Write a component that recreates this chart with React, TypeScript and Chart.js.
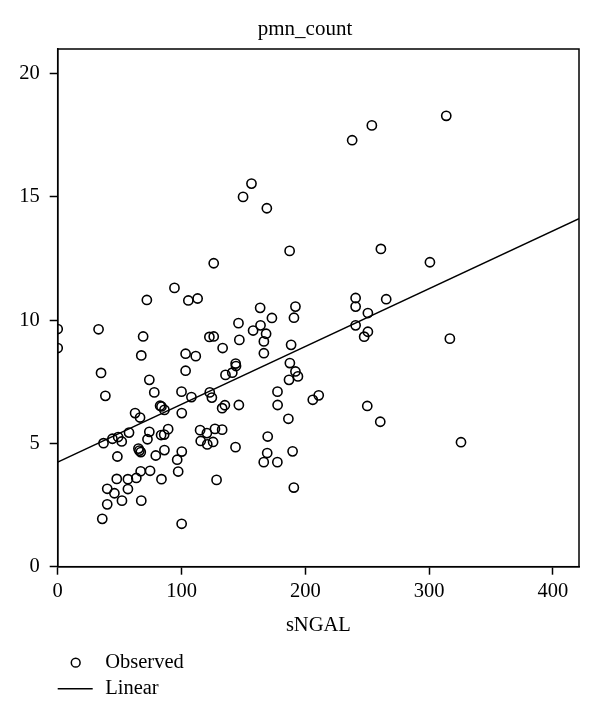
import { useEffect, useRef } from "react";
import { Chart, registerables } from "chart.js";

Chart.register(...registerables);

const chartTitle = "pmn_count";
const xAxisTitle = "sNGAL";
const observedLabel = "Observed";
const linearLabel = "Linear";

const xTicks = [0, 100, 200, 300, 400];
const yTicks = [0, 5, 10, 15, 20];
const xRange = [0, 421];
const yRange = [0, 21];

const sngal = [
  0, 0, 33, 35, 38.5, 69, 67.5, 74, 78, 62.5, 66.5, 82.7, 83.8, 86.2, 37, 44.2,
  48.8, 51.7, 57.6, 74, 72.5, 83.5, 86, 89.2, 48.2, 65.2, 66, 67.1, 79.2, 86.2,
  100.2, 96.5, 97.3, 74.6, 67, 63.5, 56.7, 47.7, 83.8, 56.7, 40, 45.8, 40, 51.9,
  67.5, 36, 100.1, 100, 103.3, 103.3, 111.5, 108, 100.2, 72, 94.3, 105.5, 113,
  126, 149.7, 156.5, 168.9, 187.3, 163.5, 192, 173, 190.8, 146, 163.8, 157.8,
  168.3, 122.5, 126, 146.7, 166.5, 188.5, 133.2, 166.5, 187.5, 143.7, 144, 192,
  194, 186.8, 141, 135.5, 122.8, 124.5, 177.5, 177.6, 206, 210.8, 132.8, 135,
  146.3, 186.3, 115, 120.5, 127, 132.8, 115.5, 120.8, 125.5, 143.6, 128.3,
  169.6, 169.2, 166.4, 177.4, 189.7, 190.7, 237.8, 253.7, 313.8, 261, 300.6,
  240.6, 240.6, 265.3, 250.5, 240.6, 250.5, 247.5, 316.7, 250, 260.5, 325.7,
];

const pmnCount = [
  9.64, 8.87, 9.63, 7.86, 6.93, 9.34, 8.57, 7.58, 7.07, 6.23, 6.05, 6.53, 6.5,
  6.36, 5.01, 5.19, 5.26, 5.08, 5.44, 5.47, 5.17, 5.34, 5.36, 5.58, 4.47, 4.79,
  4.71, 4.65, 4.51, 4.73, 4.67, 4.34, 3.86, 3.89, 3.87, 3.6, 3.55, 3.56, 3.55,
  3.15, 3.16, 2.98, 2.53, 2.68, 2.68, 1.94, 1.74, 7.1, 7.95, 8.64, 8.54, 6.88,
  6.23, 10.82, 11.31, 10.8, 10.88, 12.31, 15.0, 15.54, 14.54, 12.81, 10.5,
  10.55, 10.09, 10.1, 9.88, 9.79, 9.58, 9.45, 9.32, 9.34, 9.2, 9.14, 9.0, 8.87,
  8.66, 8.26, 8.24, 8.14, 7.92, 7.72, 7.58, 7.87, 7.78, 7.07, 6.86, 7.1, 6.56,
  6.77, 6.95, 6.43, 6.55, 6.56, 6.0, 5.54, 5.42, 5.59, 5.56, 5.1, 4.96, 5.06,
  4.85, 3.52, 5.28, 4.61, 4.24, 4.24, 4.68, 3.21, 17.3, 17.9, 18.29, 12.89,
  12.35, 10.9, 10.55, 10.85, 10.29, 9.79, 9.53, 9.33, 9.25, 6.52, 5.88, 5.05,
];

const linearX = [0, 421];
const linearY = [4.24, 14.12];

const FONT = "'Liberation Serif', 'Times New Roman', serif";

const framePlugin = {
  id: "frame",
  afterDraw(chart: any) {
    const { ctx, chartArea } = chart;
    ctx.save();
    ctx.strokeStyle = "#000";
    ctx.lineWidth = 1.5;
    ctx.strokeRect(
      chartArea.left,
      chartArea.top,
      chartArea.right - chartArea.left,
      chartArea.bottom - chartArea.top
    );
    ctx.restore();
  },
};

const titlePlugin = {
  id: "customTitle",
  afterDraw(chart: any) {
    const { ctx } = chart;
    ctx.save();
    ctx.font = `21px ${FONT}`;
    ctx.fillStyle = "#000";
    ctx.textAlign = "center";
    ctx.textBaseline = "alphabetic";
    ctx.fillText(chartTitle, chart.width / 2 + 5, 35);
    ctx.restore();
  },
};

const legendPlugin = {
  id: "customLegend",
  afterDraw(chart: any) {
    const { ctx, chartArea } = chart;
    const left = chartArea.left;
    const baseY = chartArea.bottom + 96;
    const rowH = 26;
    ctx.save();
    ctx.font = `20.5px ${FONT}`;
    ctx.fillStyle = "#000";
    ctx.strokeStyle = "#000";
    ctx.textBaseline = "middle";
    ctx.textAlign = "left";
    chart.data.datasets.forEach((ds: any, i: number) => {
      const y = baseY + i * rowH;
      ctx.lineWidth = 1.5;
      if (ds.type === "line") {
        ctx.beginPath();
        ctx.moveTo(left, y);
        ctx.lineTo(left + 35, y);
        ctx.stroke();
      } else {
        ctx.beginPath();
        ctx.arc(left + 18, y, 4.4, 0, Math.PI * 2);
        ctx.stroke();
      }
      ctx.fillText(ds.label, left + 47.5, y);
    });
    ctx.restore();
  },
};

export default function App() {
  const ref = useRef<HTMLCanvasElement | null>(null);

  useEffect(() => {
    if (!ref.current) return;
    document.body.style.margin = "0";
    const chart = new Chart(ref.current, {
      type: "scatter",
      data: {
        datasets: [
          {
            type: "scatter",
            label: observedLabel,
            data: sngal.map((x, i) => ({ x, y: pmnCount[i] })),
            pointRadius: 4.6,
            pointBorderWidth: 1.6,
            borderColor: "#000",
            backgroundColor: "rgba(0,0,0,0)",
            pointBackgroundColor: "rgba(0,0,0,0)",
            pointBorderColor: "#000",
            clip: 0,
          } as any,
          {
            type: "line",
            label: linearLabel,
            data: linearX.map((x, i) => ({ x, y: linearY[i] })),
            borderColor: "#000",
            borderWidth: 1.5,
            pointRadius: 0,
            fill: false,
            clip: 0,
          } as any,
        ],
      },
      options: {
        responsive: false,
        animation: false,
        events: [],
        layout: { padding: { left: 0, right: 21, top: 49, bottom: 76 } },
        plugins: {
          legend: { display: false },
          tooltip: { enabled: false },
          title: { display: false },
        },
        scales: {
          x: {
            type: "linear",
            min: xRange[0],
            max: xRange[1],
            afterBuildTicks: (scale: any) => {
              scale.ticks = xTicks.map((v) => ({ value: v }));
            },
            afterFit: (scale: any) => {
              scale.height = 78.3;
            },
            ticks: {
              color: "#000",
              font: { family: FONT, size: 20.5 },
              padding: 5,
              maxRotation: 0,
            },
            grid: {
              drawOnChartArea: false,
              drawTicks: true,
              tickLength: 8,
              tickWidth: 1.5,
              color: "#000",
            },
            border: { display: true, color: "#000", width: 1.5 },
            title: {
              display: true,
              text: xAxisTitle,
              color: "#000",
              font: { family: FONT, size: 20.5 },
              padding: { top: 0, bottom: 7.5 },
            },
          },
          y: {
            type: "linear",
            min: yRange[0],
            max: yRange[1],
            afterBuildTicks: (scale: any) => {
              scale.ticks = yTicks.map((v) => ({ value: v }));
            },
            afterFit: (scale: any) => {
              scale.width = 57.7;
            },
            ticks: {
              color: "#000",
              font: { family: FONT, size: 20.5 },
              padding: 10,
            },
            grid: {
              drawOnChartArea: false,
              drawTicks: true,
              tickLength: 8,
              tickWidth: 1.5,
              color: "#000",
            },
            border: { display: true, color: "#000", width: 1.5 },
          },
        },
      } as any,
      plugins: [framePlugin, titlePlugin, legendPlugin],
    });
    return () => chart.destroy();
  }, []);

  return (
    <div style={{ position: "absolute", left: 0, top: 0, width: 600, height: 721, background: "#fff" }}>
      <canvas ref={ref} width={600} height={721} />
    </div>
  );
}
